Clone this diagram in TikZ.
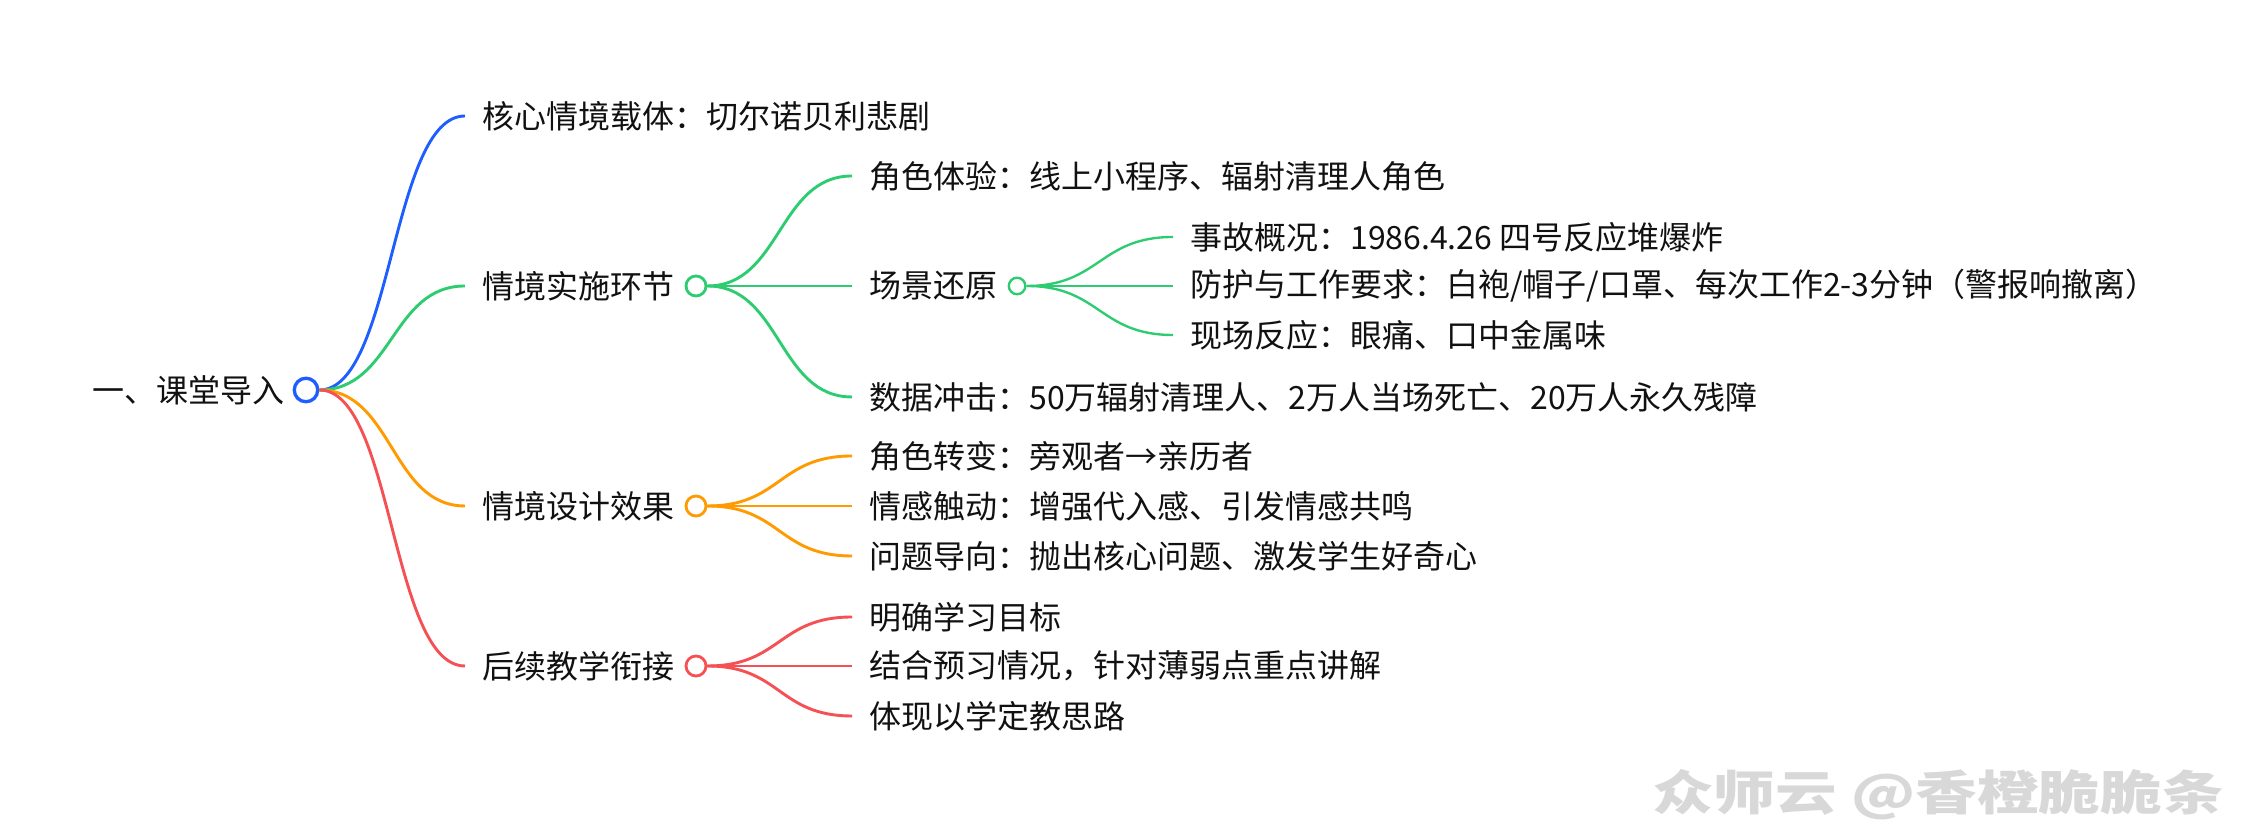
\documentclass[tikz,border=0pt]{standalone}
\usepackage{fontspec}
\setmainfont{Noto Sans CJK SC}
\usetikzlibrary{positioning}
\definecolor{Ink}{HTML}{111111}
\definecolor{Blue}{HTML}{1E5EFF}
\definecolor{Green}{HTML}{2ECC71}
\definecolor{Orange}{HTML}{FF9A00}
\definecolor{Red}{HTML}{F55053}
\definecolor{Mark}{HTML}{D8D8D8}
\tikzset{
  topic/.style={anchor=west,inner xsep=0pt,inner ysep=2pt,font=\fontsize{18.2pt}{21pt}\selectfont,text=Ink},
  rootdot/.style={circle,draw,fill=white,line width=1.9pt,minimum size=0.47cm,inner sep=0pt},
  hubdot/.style={circle,draw,fill=white,line width=1.6pt,minimum size=0.40cm,inner sep=0pt},
  subdot/.style={circle,draw,fill=white,line width=1.35pt,minimum size=0.33cm,inner sep=0pt},
  branchline/.style={line width=1.65pt,shorten >=0.34cm,to path={.. controls +(1.47,0) and +(-1.82,0) .. (\tikztotarget)}},
  leafline/.style={branchline,line width=1.35pt}
}

\begin{document}
\begin{tikzpicture}
  \useasboundingbox (0,0) rectangle (45.28,16.64);

  % root
  \node[rootdot,draw=Blue] (rootc) at (6.12,8.84) {};
  \node[topic,left=0.16cm of rootc] (root) {一、课堂导入};

  % first level
  \node[topic] (core) at (9.64,14.32) {核心情境载体：切尔诺贝利悲剧};
  \node[topic] (impl) at (9.64,10.92) {情境实施环节};
  \node[hubdot,draw=Green,right=0.2cm of impl] (implc) {};
  \node[topic] (effect) at (9.64,6.52) {情境设计效果};
  \node[hubdot,draw=Orange,right=0.2cm of effect] (effectc) {};
  \node[topic] (follow) at (9.64,3.32) {后续教学衔接};
  \node[hubdot,draw=Red,right=0.2cm of follow] (followc) {};

  % second level
  \node[topic] (role) at (17.38,13.12) {角色体验：线上小程序、辐射清理人角色};
  \node[topic] (scene) at (17.38,10.92) {场景还原};
  \node[subdot,draw=Green,right=0.2cm of scene] (scenec) {};
  \node[topic] (data) at (17.38,8.70) {数据冲击：50万辐射清理人、2万人当场死亡、20万人永久残障};
  \node[topic] (shift) at (17.38,7.52) {角色转变：旁观者→亲历者};
  \node[topic] (feel) at (17.38,6.52) {情感触动：增强代入感、引发情感共鸣};
  \node[topic] (guide) at (17.38,5.52) {问题导向：抛出核心问题、激发学生好奇心};
  \node[topic] (goal) at (17.38,4.30) {明确学习目标};
  \node[topic] (prep) at (17.38,3.32) {结合预习情况，针对薄弱点重点讲解};
  \node[topic] (plan) at (17.38,2.32) {体现以学定教思路};

  % third level
  \node[topic] (accident) at (23.80,11.90) {事故概况：1986.4.26 四号反应堆爆炸};
  \node[topic] (protect) at (23.80,10.92) {防护与工作要求：白袍/帽子/口罩、每次工作2-3分钟（警报响撤离）};
  \node[topic] (react) at (23.80,9.94) {现场反应：眼痛、口中金属味};

  % links
  \draw[branchline,Blue] (rootc.east) to (core.west);
  \draw[branchline,Green] (rootc.east) to (impl.west);
  \draw[branchline,Orange] (rootc.east) to (effect.west);
  \draw[branchline,Red] (rootc.east) to (follow.west);

  \draw[branchline,Green] (implc.east) to (role.west);
  \draw[branchline,Green] (implc.east) to (scene.west);
  \draw[branchline,Green] (implc.east) to (data.west);
  \draw[branchline,Orange] (effectc.east) to (shift.west);
  \draw[branchline,Orange] (effectc.east) to (feel.west);
  \draw[branchline,Orange] (effectc.east) to (guide.west);
  \draw[branchline,Red] (followc.east) to (goal.west);
  \draw[branchline,Red] (followc.east) to (prep.west);
  \draw[branchline,Red] (followc.east) to (plan.west);

  \draw[leafline,Green] (scenec.east) to (accident.west);
  \draw[leafline,Green] (scenec.east) to (protect.west);
  \draw[leafline,Green] (scenec.east) to (react.west);

  % watermark
  \node[font=\fontsize{27pt}{30pt}\selectfont\bfseries,text=Mark,xscale=1.3,transform shape] (mark) at (38.76,0.74) {众师云 @香橙脆脆条};
\end{tikzpicture}
\end{document}
